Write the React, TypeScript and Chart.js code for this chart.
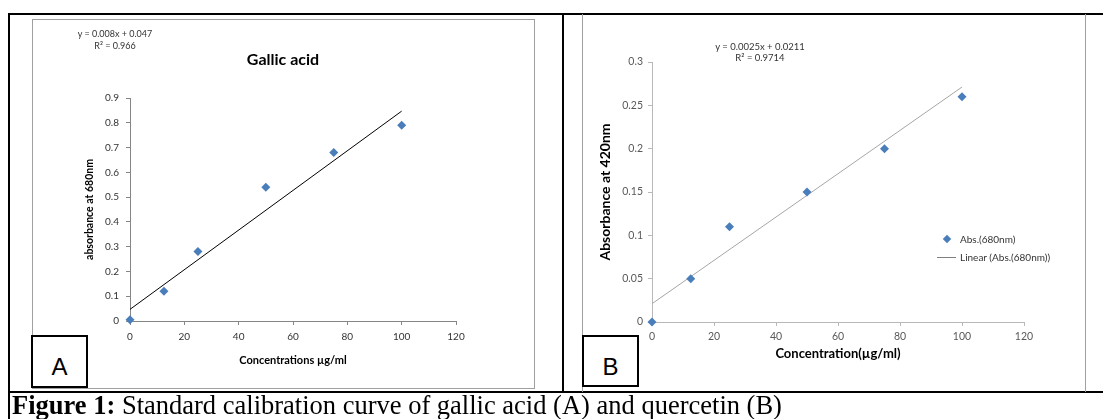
import React, { useEffect, useRef } from 'react';
import { Chart, registerables } from 'chart.js';

Chart.register(...registerables);

// ---------- data ----------
const concA = [0, 12.5, 25, 50, 75, 100];
const absA = [0.005, 0.12, 0.28, 0.54, 0.68, 0.79];
const slopeA = 0.008;
const interceptA = 0.047;

const concB = [0, 12.5, 25, 50, 75, 100];
const absB = [0, 0.05, 0.11, 0.15, 0.2, 0.26];
const slopeB = 0.0025;
const interceptB = 0.0211;

const trendX = [0, 100];
const xTicks = [0, 20, 40, 60, 80, 100, 120];
const xTickLabels = ['0', '20', '40', '60', '80', '100', '120'];
const yTicksA = [0, 0.1, 0.2, 0.3, 0.4, 0.5, 0.6, 0.7, 0.8, 0.9];
const yTickLabelsA = ['0', '0.1', '0.2', '0.3', '0.4', '0.5', '0.6', '0.7', '0.8', '0.9'];
const yTicksB = [0, 0.05, 0.1, 0.15, 0.2, 0.25, 0.3];
const yTickLabelsB = ['0', '0.05', '0.1', '0.15', '0.2', '0.25', '0.3'];

const SANS = 'Lato, "Liberation Sans", sans-serif';
const BLUE = '#4a7ebb';

type PanelCfg = {
  w: number; h: number;
  pad: { left: number; top: number; right: number; bottom: number };
  yWidth: number; xHeight: number;
  xs: number[]; ys: number[]; slope: number; intercept: number;
  lineColor: string; axisColor: string; tickColor: string;
  yMax: number; yTicks: number[]; yLabels: string[];
  xTitle: string; yTitle: string;
  xTitleSize: number; yTitleSize: number; tickSize: number;
  xTitlePadBottom: number; yTitlePadTop: number;
  xTickPad: number; yTickPad: number; tickLen: number;
};

function ChartPanel({ cfg }: { cfg: PanelCfg }) {
  const ref = useRef<HTMLCanvasElement | null>(null);
  useEffect(() => {
    if (!ref.current) return;
    const c = cfg;
    const chart = new Chart(ref.current, {
      type: 'scatter',
      data: {
        datasets: [
          {
            type: 'scatter',
            data: c.xs.map((x, i) => ({ x, y: c.ys[i] })),
            pointStyle: 'rectRot',
            pointRadius: 4.5,
            backgroundColor: BLUE,
            borderColor: BLUE,
            borderWidth: 0,
            clip: false,
            order: 0,
          } as any,
          {
            type: 'line',
            data: trendX.map((x) => ({ x, y: c.slope * x + c.intercept })),
            borderColor: c.lineColor,
            borderWidth: 1,
            pointRadius: 0,
            fill: false,
            order: 1,
          } as any,
        ],
      },
      options: {
        responsive: false,
        animation: false,
        devicePixelRatio: 1,
        layout: { padding: c.pad },
        plugins: { legend: { display: false }, tooltip: { enabled: false }, title: { display: false } },
        scales: {
          x: {
            type: 'linear',
            position: 'bottom',
            min: 0,
            max: 120,
            afterBuildTicks: (s: any) => { s.ticks = xTicks.map((v) => ({ value: v })); },
            afterFit: (s: any) => { s.height = c.xHeight; },
            ticks: {
              callback: (_v: any, i: number) => xTickLabels[i],
              font: { family: SANS, size: c.tickSize },
              color: c.tickColor,
              padding: c.xTickPad,
              maxRotation: 0,
              autoSkip: false,
            },
            grid: { display: true, drawOnChartArea: false, drawTicks: true, tickLength: c.tickLen, tickColor: c.axisColor, color: c.axisColor },
            border: { display: true, color: c.axisColor, width: 1 },
            title: {
              display: true, text: c.xTitle, color: '#000',
              font: { family: SANS, size: c.xTitleSize, weight: 'bold' },
              padding: { top: 0, bottom: c.xTitlePadBottom },
            },
          },
          y: {
            type: 'linear',
            position: 'left',
            min: 0,
            max: c.yMax,
            afterBuildTicks: (s: any) => { s.ticks = c.yTicks.map((v) => ({ value: v })); },
            afterFit: (s: any) => { s.width = c.yWidth; },
            ticks: {
              callback: (_v: any, i: number) => c.yLabels[i],
              font: { family: SANS, size: c.tickSize },
              color: c.tickColor,
              padding: c.yTickPad,
              autoSkip: false,
            },
            grid: { display: true, drawOnChartArea: false, drawTicks: true, tickLength: c.tickLen, tickColor: c.axisColor, color: c.axisColor },
            border: { display: true, color: c.axisColor, width: 1 },
            title: {
              display: true, text: c.yTitle, color: '#000',
              font: { family: SANS, size: c.yTitleSize, weight: 'bold' },
              padding: { top: c.yTitlePadTop, bottom: 0 },
            },
          },
        },
      } as any,
    });
    return () => chart.destroy();
  }, [cfg]);
  return <canvas ref={ref} width={cfg.w} height={cfg.h} style={{ display: 'block', width: cfg.w, height: cfg.h }} />;
}

const cfgA: PanelCfg = {
  w: 503, h: 370,
  pad: { left: 0, top: 79, right: 79, bottom: 0 },
  yWidth: 98, xHeight: 68,
  xs: concA, ys: absA, slope: slopeA, intercept: interceptA,
  lineColor: '#000000', axisColor: '#868686', tickColor: '#333333',
  yMax: 0.9, yTicks: yTicksA, yLabels: yTickLabelsA,
  xTitle: 'Concentrations µg/ml', yTitle: 'absorbance at 680nm',
  xTitleSize: 11, yTitleSize: 10.5, tickSize: 10,
  xTitlePadBottom: 22, yTitlePadTop: 51,
  xTickPad: 6, yTickPad: 7, tickLen: 4,
};

const cfgB: PanelCfg = {
  w: 504, h: 376,
  pad: { left: 0, top: 47, right: 62, bottom: 0 },
  yWidth: 70, xHeight: 69,
  xs: concB, ys: absB, slope: slopeB, intercept: interceptB,
  lineColor: '#a6a6a6', axisColor: '#b8b8b8', tickColor: '#595959',
  yMax: 0.3, yTicks: yTicksB, yLabels: yTickLabelsB,
  xTitle: 'Concentration(µg/ml)', yTitle: 'Absorbance at 420nm',
  xTitleSize: 13, yTitleSize: 14, tickSize: 10.5,
  xTitlePadBottom: 29, yTitlePadTop: 15,
  xTickPad: 4, yTickPad: 5, tickLen: 4,
};

const abs = (l: number, t: number, w: number, h: number, extra: React.CSSProperties = {}): React.CSSProperties => ({
  position: 'absolute', left: l, top: t, width: w, height: h, boxSizing: 'border-box', ...extra,
});

const centered = (cx: number, cy: number, size: number, extra: React.CSSProperties = {}): React.CSSProperties => ({
  position: 'absolute', left: cx - 150, top: cy - size, width: 300, height: size * 2, lineHeight: `${size * 2}px`,
  textAlign: 'center', fontSize: size, fontFamily: SANS, whiteSpace: 'nowrap', ...extra,
});

const labelBox: React.CSSProperties = {
  border: '2px solid #000', background: '#fff', textAlign: 'center', lineHeight: '59px', fontSize: 24,
  fontFamily: '"Liberation Sans", Arial, sans-serif', overflow: 'hidden',
};

export default function App() {
  return (
    <div style={{ position: 'absolute', left: 0, top: 0, width: 1103, height: 419, background: '#fff', overflow: 'hidden' }}>
      {/* table borders */}
      <div style={abs(8, 13, 1095, 2, { background: '#000' })} />
      <div style={abs(8, 13, 2, 406, { background: '#000' })} />
      <div style={abs(562, 13, 2, 379, { background: '#000' })} />
      <div style={abs(8, 391, 1095, 2, { background: '#000' })} />

      {/* Chart A */}
      <div style={abs(32, 19, 503, 370, { border: '1px solid #a0a0a0' })} />
      <div style={abs(32, 19, 503, 370)}>
        <ChartPanel cfg={cfgA} />
      </div>
      <div style={centered(115, 34, 9, { color: '#333' })}>y = 0.008x + 0.047</div>
      <div style={centered(115, 46, 9, { color: '#333' })}>R² = 0.966</div>
      <div style={centered(283, 59, 16, { fontWeight: 'bold', color: '#000' })}>Gallic acid</div>

      {/* Chart B */}
      <div style={abs(582, 14, 504, 378, { border: '1px solid #a0a0a0', borderTop: 'none', borderBottom: 'none' })} />
      <div style={abs(582, 15, 504, 376)}>
        <ChartPanel cfg={cfgB} />
      </div>
      <div style={centered(760, 46, 9.5, { color: '#333' })}>y = 0.0025x + 0.0211</div>
      <div style={centered(760, 57, 9.5, { color: '#333' })}>R² = 0.9714</div>

      {/* legend B */}
      <div style={abs(943, 235, 8, 8, { background: BLUE, transform: 'rotate(45deg) scale(0.75)' })} />
      <div style={{ position: 'absolute', left: 960, top: 232, fontSize: 10, lineHeight: '14px', fontFamily: SANS, color: '#333', whiteSpace: 'nowrap' }}>Abs.(680nm)</div>
      <div style={abs(937, 257, 19, 1, { background: '#808080' })} />
      <div style={{ position: 'absolute', left: 960, top: 250, fontSize: 10, lineHeight: '14px', fontFamily: SANS, color: '#333', whiteSpace: 'nowrap' }}>Linear (Abs.(680nm))</div>

      {/* panel labels */}
      <div style={abs(31, 335, 57, 53, labelBox)}>A</div>
      <div style={abs(582, 335, 57, 52, labelBox)}>B</div>

      {/* caption */}
      <div style={{ position: 'absolute', left: 12, top: 392, height: 27, lineHeight: '27px', fontSize: 26.5, fontFamily: '"Liberation Serif", "Times New Roman", serif', color: '#000', whiteSpace: 'nowrap' }}>
        <b>Figure 1:</b> Standard calibration curve of gallic acid (A) and quercetin (B)
      </div>
    </div>
  );
}
